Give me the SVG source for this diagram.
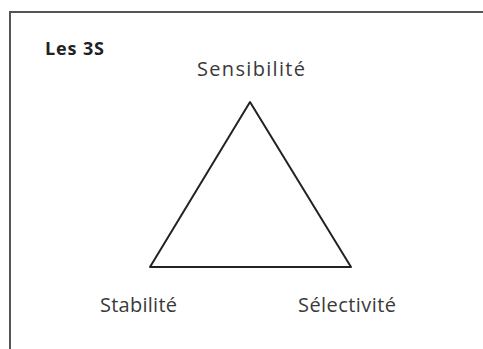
<svg xmlns="http://www.w3.org/2000/svg" width="483" height="349" viewBox="0 0 483 349">
<style>
.lbl{font-family:"Open Sans","Liberation Sans",sans-serif;font-size:20px;fill:#3a3a3a}
.title{font-family:"Open Sans","Liberation Sans",sans-serif;font-size:18px;font-weight:bold;fill:#222}
</style>
<rect width="483" height="349" fill="#fff"/>
<rect id="frame" x="10" y="12" width="490" height="350" fill="none" stroke="#555" stroke-width="2"/>
<text class="title" x="45" y="55" textLength="59" lengthAdjust="spacing">Les 3S</text>
<g id="connectors">
<polygon points="250,102 150,267 351,267" fill="none" stroke="#222" stroke-width="2" stroke-linejoin="round"/>
</g>
<g id="sensibilite"><text class="lbl" x="197" y="76" textLength="108" lengthAdjust="spacing">Sensibilité</text></g>
<g id="stabilite"><text class="lbl" x="100" y="312" textLength="77" lengthAdjust="spacing">Stabilité</text></g>
<g id="selectivite"><text class="lbl" x="298" y="312" textLength="98" lengthAdjust="spacing">Sélectivité</text></g>
</svg>
